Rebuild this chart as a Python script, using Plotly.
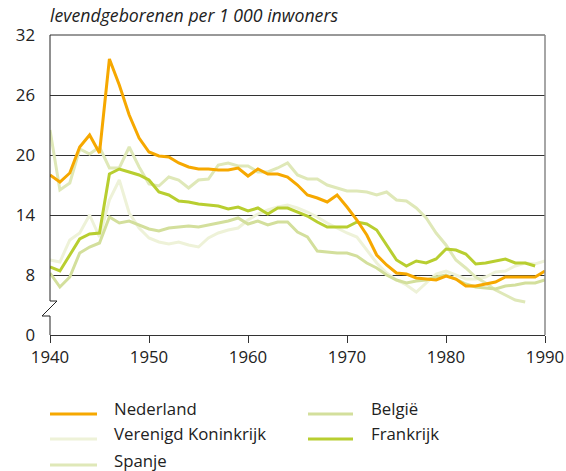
import plotly.graph_objects as go

years = list(range(1940, 1991))

nederland = [18.0, 17.3, 18.2, 20.8, 22.0, 20.2, 29.6, 27.0, 24.0, 21.7,
             20.3, 19.9, 19.8, 19.2, 18.8, 18.6, 18.6, 18.5, 18.5, 18.7,
             17.9, 18.6, 18.1, 18.1, 17.8, 17.0, 16.0, 15.7, 15.3, 16.0,
             14.8, 13.5, 12.0, 10.0, 9.0, 8.2, 8.1, 7.7, 7.6, 7.5,
             7.9, 7.6, 6.9, 6.9, 7.1, 7.3, 7.8, 7.8, 7.8, 7.8, 8.4]

verenigd_koninkrijk = [9.5, 9.3, 11.5, 12.2, 14.0, 11.8, 15.5, 17.5, 14.2, 12.7,
                       11.7, 11.3, 11.1, 11.3, 11.0, 10.8, 11.7, 12.2, 12.5, 12.7,
                       13.5, 14.1, 14.5, 14.8, 15.0, 14.7, 14.3, 13.8, 13.2, 12.7,
                       12.2, 11.8, 10.5, 9.2, 8.2, 7.5, 7.0, 6.3, 7.2, 8.1,
                       8.4, 8.0, 7.6, 7.6, 7.8, 8.3, 8.4, 8.9, 9.2, 9.1, 9.4]

spanje = [22.5, 16.5, 17.2, 20.6, 20.1, 20.8, 18.7, 18.7, 20.8, 18.8,
          17.1, 16.9, 17.8, 17.5, 16.7, 17.5, 17.6, 19.0, 19.2, 18.9,
          18.9, 18.3, 18.3, 18.7, 19.2, 18.0, 17.6, 17.6, 17.0, 16.7,
          16.4, 16.4, 16.3, 16.0, 16.3, 15.5, 15.4, 14.7, 13.7, 12.2,
          11.0, 9.5, 8.7, 7.8, 7.2, 6.5, 6.0, 5.5, 5.3]

belgie = [8.2, 6.8, 7.8, 10.2, 10.8, 11.2, 13.8, 13.2, 13.4, 13.0,
          12.6, 12.4, 12.7, 12.8, 12.9, 12.8, 13.0, 13.2, 13.4, 13.7,
          13.1, 13.4, 13.0, 13.3, 13.3, 12.3, 11.8, 10.4, 10.3, 10.2,
          10.2, 9.9, 9.2, 8.7, 8.0, 7.5, 7.2, 7.4, 7.5, 7.8,
          8.0, 7.6, 7.1, 6.8, 6.7, 6.6, 6.9, 7.0, 7.2, 7.2, 7.5]

frankrijk = [8.8, 8.4, 10.0, 11.6, 12.1, 12.2, 18.1, 18.6, 18.3, 18.0,
             17.5, 16.3, 16.0, 15.4, 15.3, 15.1, 15.0, 14.9, 14.6, 14.8,
             14.4, 14.7, 14.1, 14.7, 14.7, 14.3, 13.9, 13.3, 12.8, 12.8,
             12.8, 13.3, 13.1, 12.5, 11.0, 9.5, 8.9, 9.4, 9.2, 9.6,
             10.6, 10.5, 10.1, 9.1, 9.2, 9.4, 9.6, 9.2, 9.2, 8.9]

# y axis is broken: the "0" tick sits where 2 would be on a linear scale
ytick_vals = [2, 8, 14, 20, 26, 32]
ytick_text = ["0", "8", "14", "20", "26", "32"]
xtick_vals = [1940, 1950, 1960, 1970, 1980, 1990]

series = [
    ("Verenigd Koninkrijk", verenigd_koninkrijk, "#EEF2D8"),
    ("Spanje", spanje, "#DFE8B8"),
    ("België", belgie, "#D3DF9C"),
    ("Frankrijk", frankrijk, "#B8CE30"),
    ("Nederland", nederland, "#F6A800"),
]

FONT = "Open Sans"
W, H = 566, 471
L, R, T, B = 50, 545, 35, 335


def px(x):
    return (x - L) / (R - L)


def py(y):
    return (B - y) / (B - T)


fig = go.Figure()
for name, vals, col in series:
    fig.add_trace(go.Scatter(
        x=years[:len(vals)], y=vals, mode="lines", name=name,
        line=dict(color=col, width=3), showlegend=False, hoverinfo="skip"))

shapes = []
# top frame and right frame
shapes.append(dict(type="line", xref="paper", yref="paper", x0=0, x1=1, y0=1, y1=1,
                   line=dict(color="#333", width=1)))
shapes.append(dict(type="line", xref="paper", yref="paper", x0=1, x1=1, y0=0, y1=1,
                   line=dict(color="#888", width=1.5)))
# left axis with break
shapes.append(dict(type="line", xref="paper", yref="paper", x0=0, x1=0, y0=py(301), y1=1,
                   line=dict(color="#222", width=1)))
shapes.append(dict(type="line", xref="paper", yref="paper", x0=0, x1=0, y0=0, y1=py(316),
                   line=dict(color="#222", width=1)))
shapes.append(dict(type="path", xref="paper", yref="paper",
                   path=f"M {px(50)},{py(301)} L {px(57)},{py(301)} L {px(42)},{py(316)} L {px(50)},{py(316)}",
                   line=dict(color="#222", width=1)))

annotations = [dict(text="<i>levendgeborenen per 1 000 inwoners</i>", xref="paper", yref="paper",
                    x=0, y=1, xanchor="left", yanchor="bottom", yshift=6, xshift=-2, showarrow=False,
                    font=dict(family=FONT, size=17.7, color="#222"))]

# legend built manually (two columns)
legend_items = [
    ("Nederland", "#F6A800", 50, 97, 414, 112, 408),
    ("Verenigd Koninkrijk", "#EEF2D8", 50, 97, 439, 112, 433),
    ("Spanje", "#DFE8B8", 50, 97, 465, 112, 460),
    ("België", "#D3DF9C", 308, 353, 414, 369, 408),
    ("Frankrijk", "#B8CE30", 308, 353, 439, 369, 433),
]
for name, col, lx0, lx1, ly, tx, ty in legend_items:
    shapes.append(dict(type="line", xref="paper", yref="paper",
                       x0=px(lx0), x1=px(lx1), y0=py(ly), y1=py(ly),
                       line=dict(color=col, width=3)))
    annotations.append(dict(text=name, xref="paper", yref="paper", x=px(tx), y=py(ty),
                            xanchor="left", yanchor="middle", showarrow=False,
                            font=dict(family=FONT, size=16.8, color="#222")))

fig.update_layout(
    width=W, height=H, autosize=False,
    margin=dict(l=L, r=W - R, t=T, b=H - B),
    paper_bgcolor="white", plot_bgcolor="white",
    font=dict(family=FONT, size=16.8, color="#222"),
    xaxis=dict(range=[1940, 1990], tickvals=xtick_vals, showgrid=False, zeroline=False,
               automargin=False,
               showline=True, linecolor="#333", linewidth=1, ticks="outside", ticklen=7,
               tickcolor="#333", tickfont=dict(family=FONT, size=16.8, color="#222")),
    yaxis=dict(range=[2, 32], tickvals=ytick_vals, ticktext=ytick_text, showgrid=True,
               automargin=False,
               gridcolor="#333", gridwidth=1, zeroline=False, showline=False, ticks="",
               ticklabelstandoff=14, tickfont=dict(family=FONT, size=16.8, color="#222")),
    shapes=shapes, annotations=annotations,
)

fig.write_html("out.html",
               config={"displayModeBar": False, "responsive": False},
               post_script="document.body.style.margin='0';document.body.style.overflow='hidden';")
